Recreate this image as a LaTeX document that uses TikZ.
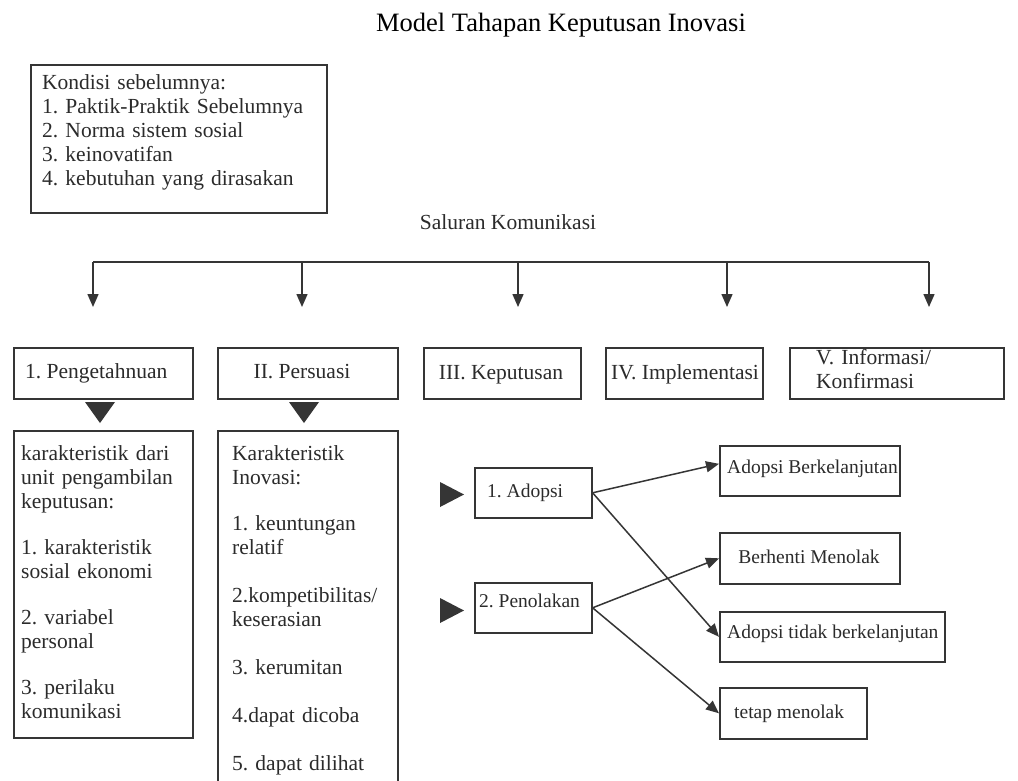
\documentclass[tikz,border=0pt]{standalone}
\usepackage{fontspec}
\setmainfont{Liberation Serif}
\usetikzlibrary{arrows.meta}
\definecolor{ln}{HTML}{353535}
\definecolor{tx}{HTML}{2B2B2B}
\frenchspacing
\begin{document}
\begin{tikzpicture}[x=1pt,y=-1pt,
  bx/.style={draw=ln, line width=1.6pt, inner sep=0pt, rectangle, anchor=north west},
  tt/.style={font=\fontsize{21.5}{24}\selectfont, text=tx, inner sep=0pt, align=left, anchor=base west},
  ts/.style={font=\fontsize{19.5}{24}\selectfont, text=tx, inner sep=0pt, anchor=base west},
  ar/.style={draw=ln, line width=1.5pt, -{Triangle[length=13pt,width=11pt]}},
  tri/.style={fill=ln, draw=none}
]
\useasboundingbox (0,0) rectangle (1018,780);
\clip (0,0) rectangle (1018,780);
\fill[white] (0,0) rectangle (1018,780);

% title
\node[font=\fontsize{26.5}{30}\selectfont, text=black, inner sep=0pt, anchor=base] (title) at (561,31) {Model Tahapan Keputusan Inovasi};

% conditions box
\node[bx, minimum width=296, minimum height=148] (cond) at (30,64) {};
\node[tt, text width=280] (condT) at (42,89) {Kondisi sebelumnya:\\1. Paktik-Praktik Sebelumnya\\2. Norma sistem sosial\\3. keinovatifan\\4. kebutuhan yang dirasakan};

% communication channel
\node[tt, anchor=base] (sal) at (508,229) {Saluran Komunikasi};
\coordinate (c1) at (93,262);
\coordinate (c2) at (302,262);
\coordinate (c3) at (518,262);
\coordinate (c4) at (727,262);
\coordinate (c5) at (929,262);
\coordinate (d1) at (93,307);
\coordinate (d2) at (302,307);
\coordinate (d3) at (518,307);
\coordinate (d4) at (727,307);
\coordinate (d5) at (929,307);
\draw[draw=ln, line width=1.6pt] (c1) -- (c5);
\foreach \i in {1,...,5} {\draw[ar] (c\i) -- (d\i);}

% stage boxes
\node[bx, minimum width=179, minimum height=51] (s1) at (13,347) {};
\node[tt] (s1T) at (25,378) {1. Pengetahnuan};
\node[bx, minimum width=180, minimum height=51] (s2) at (217,347) {};
\node[tt, anchor=base] (s2T) at (302,378) {II. Persuasi};
\node[bx, minimum width=157, minimum height=51] (s3) at (423,347) {};
\node[tt, anchor=base] (s3T) at (501,379) {III. Keputusan};
\node[bx, minimum width=157, minimum height=51] (s4) at (605,347) {};
\node[tt] (s4T) at (611,379) {IV. Implementasi};
\node[bx, minimum width=214, minimum height=51] (s5) at (789,347) {};
\node[tt, text width=190] (s5T) at (816,364) {V. Informasi/\\Konfirmasi};

% down triangles
\fill[tri] (85,402) -- (115,402) -- (100,423) -- cycle;
\fill[tri] (289,402) -- (319,402) -- (304,423) -- cycle;

% description boxes
\node[bx, minimum width=179, minimum height=307] (k1) at (13,430) {};
\node[tt, text width=170] (k1T) at (21,460) {karakteristik dari\\unit pengambilan\\keputusan:\\[22pt]1. karakteristik\\sosial ekonomi\\[22pt]2. variabel\\personal\\[22pt]3. perilaku\\komunikasi};
\node[bx, minimum width=180, minimum height=380] (k2) at (217,430) {};
\node[tt, text width=170] (k2T) at (232,460) {Karakteristik\\Inovasi:\\[22pt]1. keuntungan\\relatif\\[24pt]2.kompetibilitas/\\keserasian\\[24pt]3. kerumitan\\[24pt]4.dapat dicoba\\[24pt]5. dapat dilihat};

% right triangles
\fill[tri] (440,482) -- (464,494.5) -- (440,507) -- cycle;
\fill[tri] (440,598) -- (464,610.5) -- (440,623) -- cycle;

% decision boxes
\node[bx, minimum width=117, minimum height=50] (ad) at (474,467) {};
\node[ts] (adT) at (487,497) {1. Adopsi};
\node[bx, minimum width=117, minimum height=50] (pe) at (474,582) {};
\node[ts] (peT) at (479,607) {2. Penolakan};

% outcome boxes
\node[bx, minimum width=180, minimum height=50] (ab) at (719,445) {};
\node[ts] (abT) at (727,473) {Adopsi Berkelanjutan};
\node[bx, minimum width=180, minimum height=51] (bm) at (719,532) {};
\node[ts, anchor=base] (bmT) at (809,563) {Berhenti Menolak};
\node[bx, minimum width=225, minimum height=50] (at) at (719,611) {};
\node[ts] (atT) at (727,638) {Adopsi tidak berkelanjutan};
\node[bx, minimum width=147, minimum height=51] (tm) at (719,687) {};
\node[ts] (tmT) at (734,718) {tetap menolak};

% connectors
\draw[ar] (ad.east) -- ([yshift=7pt]ab.west);
\draw[ar] (ad.east) -- (at.west);
\draw[ar] (pe.east) -- (bm.west);
\draw[ar] (pe.east) -- (tm.west);
\end{tikzpicture}
\end{document}
